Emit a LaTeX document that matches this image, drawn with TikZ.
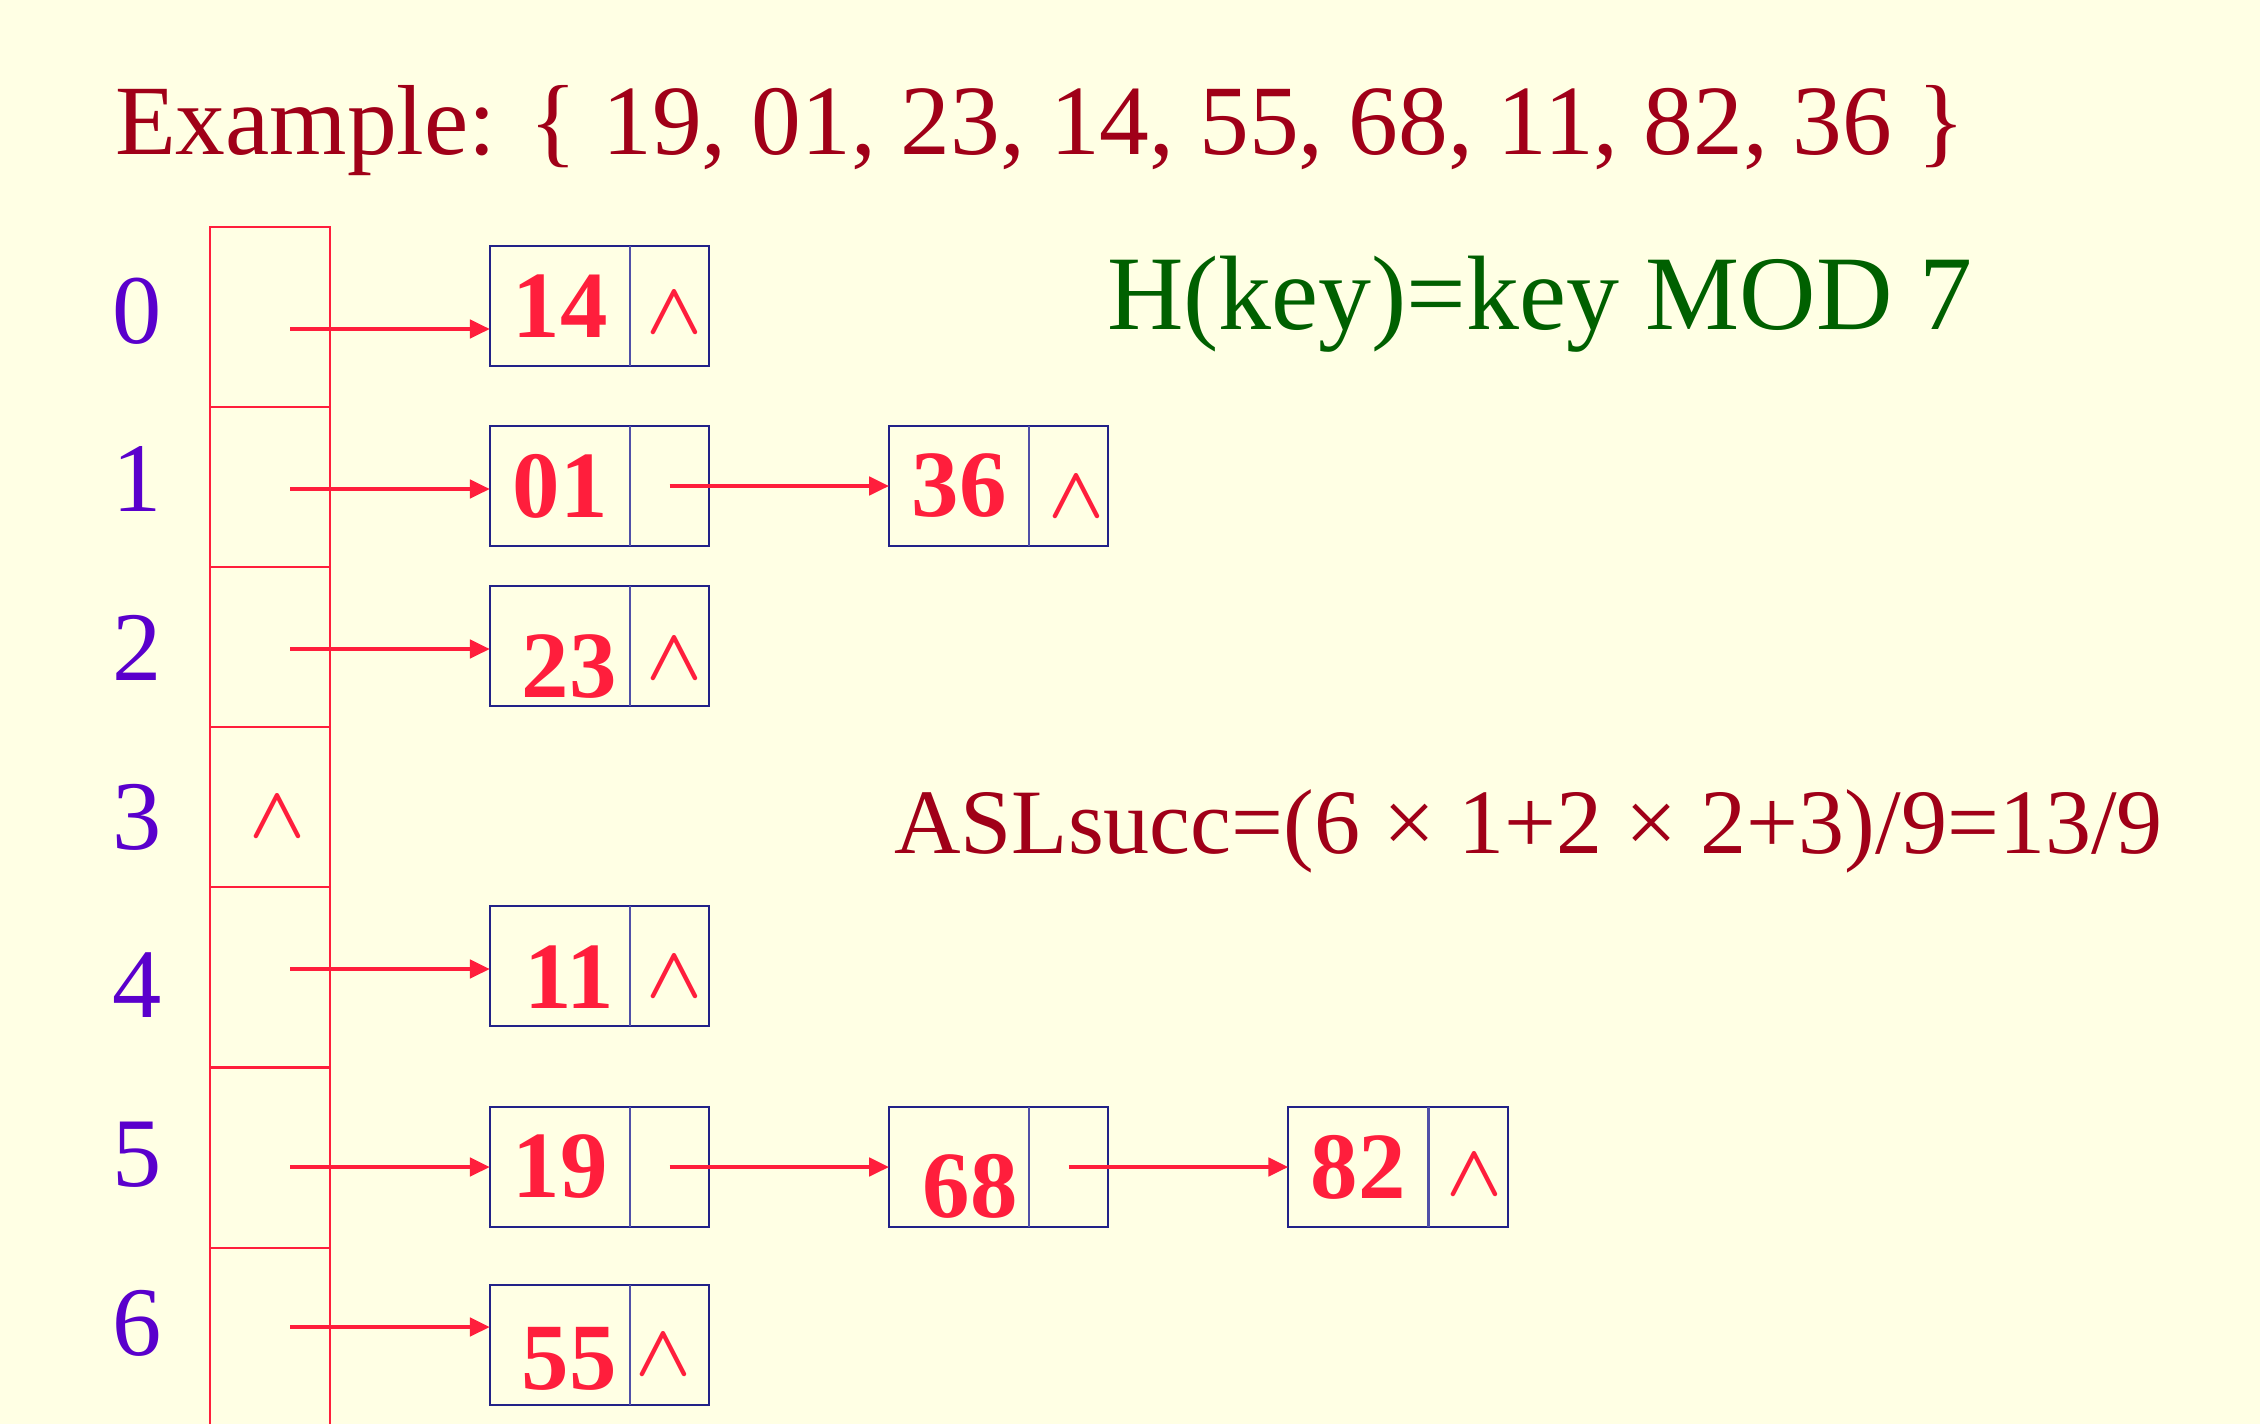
\documentclass[tikz,border=0pt]{standalone}
\usepackage{fontspec}
\setmainfont{Liberation Serif}
\usetikzlibrary{positioning,arrows.meta}
\definecolor{bgyellow}{RGB}{255,255,228}
\definecolor{keyred}{RGB}{160,0,24}
\definecolor{numred}{RGB}{255,30,60}
\definecolor{boxblue}{RGB}{34,34,136}
\definecolor{divblue}{RGB}{80,80,168}
\definecolor{idxviolet}{RGB}{90,0,204}
\definecolor{hashgreen}{RGB}{0,96,0}
\newcommand{\nilmark}{$\wedge$}

\begin{document}
\begin{tikzpicture}[x=0.01cm,y=-0.01cm,inner sep=0pt,outer sep=0pt,node distance=0mm and 18mm]
\tikzstyle{slot}=[rectangle, draw=numred, line width=0.6pt, minimum width=1.2cm]
\tikzstyle{data}=[rectangle, draw=boxblue, line width=0.6pt, minimum width=1.4cm, minimum height=1.2cm]
\tikzstyle{ptr}=[rectangle, draw=boxblue, line width=0.6pt, minimum width=0.79cm, minimum height=1.2cm]
\tikzstyle{num}=[text=numred, font=\bfseries\fontsize{27}{27}\selectfont]
\tikzstyle{nil}=[text=numred, font=\fontsize{22}{22}\selectfont\boldmath]
\tikzstyle{idx}=[text=idxviolet, font=\fontsize{28}{28}\selectfont]
\tikzstyle{link}=[-{Triangle[length=0.2cm,width=0.18cm]}, draw=numred, line width=1.3pt]
\tikzstyle{divider}=[draw=divblue, line width=0.6pt]
\useasboundingbox[fill=bgyellow] (0,0) rectangle (2260,1424);

% texts
\node[anchor=base west, text=keyred, font=\fontsize{28.3}{28.3}\selectfont] (example) at (115,154)
  {Example: \{ 19, 01, 23, 14, 55, 68, 11, 82, 36 \}};
\node[anchor=base west, text=hashgreen, font=\fontsize{30.1}{30.1}\selectfont] (hash) at (1107,329)
  {H(key)=key MOD 7};
\node[anchor=base west, text=keyred, font=\fontsize{26.2}{26.2}\selectfont] (asl) at (894,853)
  {ASLsucc=(6 × 1+2 × 2+3)/9=13/9};

% hash table
\foreach \i in {0,...,6}
  \node[idx, anchor=base] (i\i) at (137,343+168.7*\i) {\i};
\node[slot, minimum height=1.8cm] (t0) at (270,317) {};
\node[slot, minimum height=1.6cm] (t1) [below=of t0] {};
\node[slot, minimum height=1.6cm] (t2) [below=of t1] {};
\node[slot, minimum height=1.6cm, label={[nil,xshift=0.07cm,yshift=-0.1cm]center:\nilmark}] (t3) [below=of t2] {};
\node[slot, minimum height=1.8cm] (t4) [below=of t3] {};
\node[slot, minimum height=1.8cm] (t5) [below=of t4] {};
\node[slot, minimum height=2.2cm] (t6) [below=of t5] {};

% chains
\node[data, label={[num]center:14}] (d14) at (560,306) {};
\node[ptr, label={[nil,xshift=0.05cm,yshift=-0.07cm]center:\nilmark}] (p14) [right=0mm of d14] {};
\node[data, label={[num]center:01}] (d01) at (560,486) {};
\node[ptr] (p01) [right=0mm of d01] {};
\node[data, label={[num]center:36}] (d36) [right=of p01] {};
\node[ptr, label={[nil,xshift=0.075cm,yshift=-0.11cm]center:\nilmark}] (p36) [right=0mm of d36] {};
\node[data, label={[num,xshift=0.09cm,yshift=-0.21cm]center:23}] (d23) at (560,646) {};
\node[ptr, label={[nil,xshift=0.05cm,yshift=-0.13cm]center:\nilmark}] (p23) [right=0mm of d23] {};
\node[data, label={[num,xshift=0.09cm,yshift=-0.11cm]center:11}] (d11) at (560,966) {};
\node[ptr, label={[nil,xshift=0.05cm,yshift=-0.11cm]center:\nilmark}] (p11) [right=0mm of d11] {};
\node[data, label={[num]center:19}] (d19) at (560,1167) {};
\node[ptr] (p19) [right=0mm of d19] {};
\node[data, label={[num,xshift=0.11cm,yshift=-0.19cm]center:68}] (d68) [right=of p19] {};
\node[ptr] (p68) [right=0mm of d68] {};
\node[data, label={[num]center:82}] (d82) [right=of p68] {};
\node[ptr, label={[nil,xshift=0.065cm,yshift=-0.08cm]center:\nilmark}] (p82) [right=0mm of d82] {};
\node[data, label={[num,xshift=0.09cm,yshift=-0.14cm]center:55}] (d55) at (560,1345) {};
\node[ptr, label={[nil,xshift=-0.065cm,yshift=-0.1cm]center:\nilmark}] (p55) [right=0mm of d55] {};
\foreach \p in {p14,p01,p36,p23,p11,p19,p68,p82,p55}
  \draw[divider] (\p.north west) -- (\p.south west);

% pointers
\coordinate (s0) at (290,329);
\coordinate (s1) at (290,489);
\coordinate (s2) at (290,649);
\coordinate (s4) at (290,969);
\coordinate (s5) at (290,1167);
\coordinate (s6) at (290,1327);
\draw[link] (s0) -- (s0 -| d14.west);
\draw[link] (s1) -- (s1 -| d01.west);
\draw[link] (s2) -- (s2 -| d23.west);
\draw[link] (s4) -- (s4 -| d11.west);
\draw[link] (s5) -- (s5 -| d19.west);
\draw[link] (s6) -- (s6 -| d55.west);
\draw[link] (p01.center) -- (d36.west);
\draw[link] (p19.center) -- (d68.west);
\draw[link] (p68.center) -- (d82.west);
\end{tikzpicture}
\end{document}
